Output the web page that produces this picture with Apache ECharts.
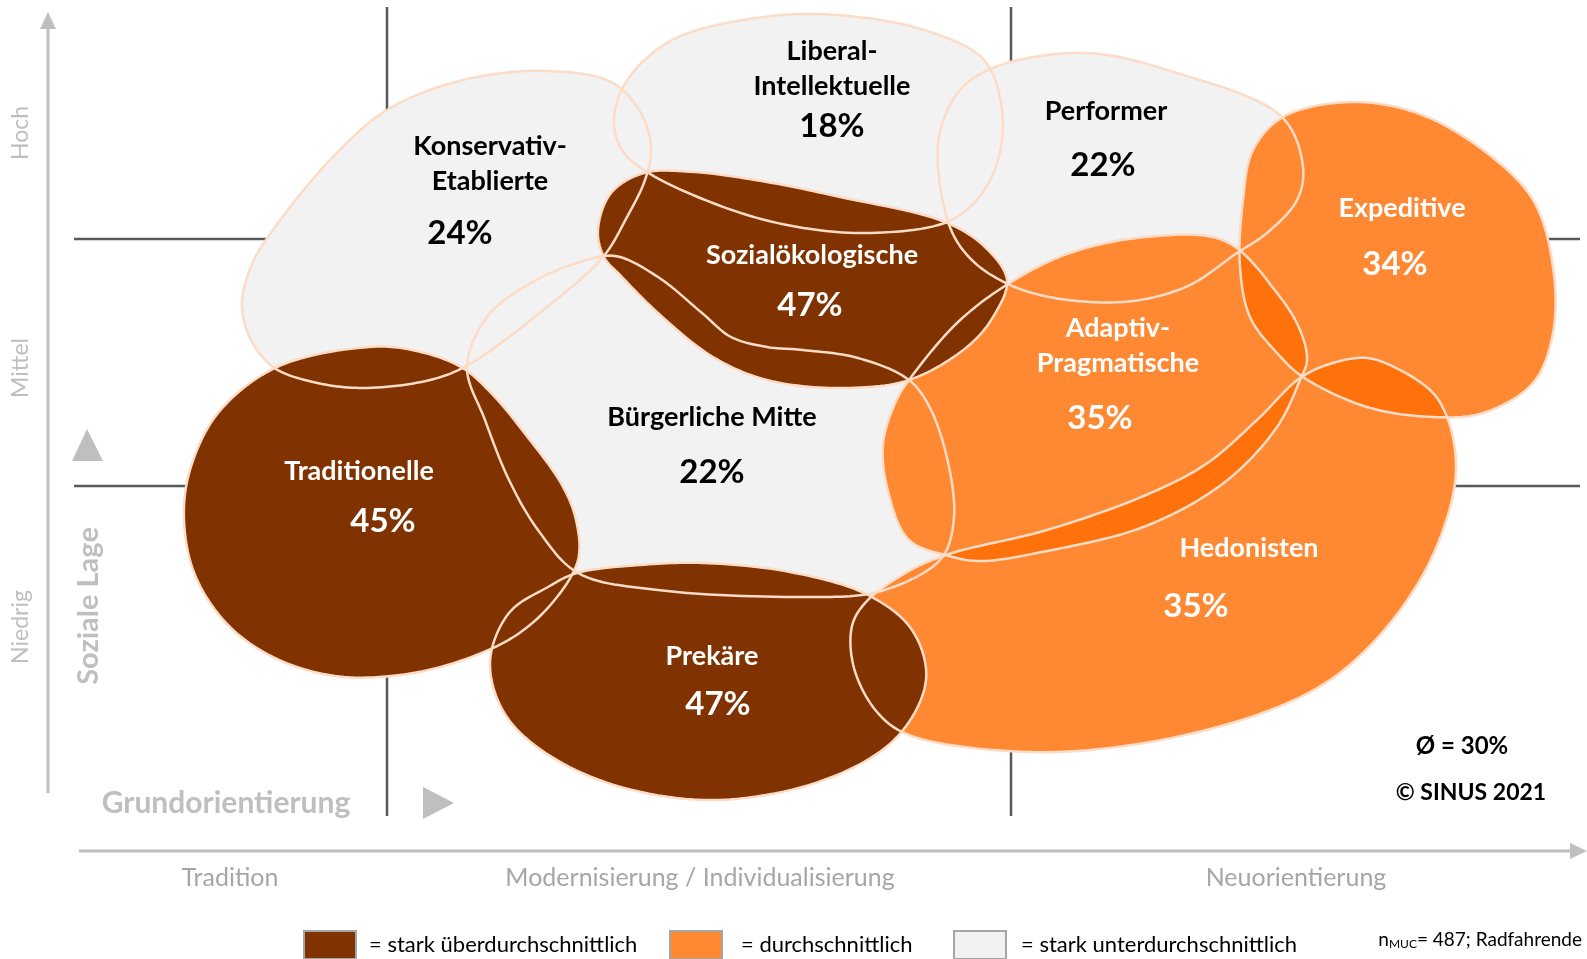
<!DOCTYPE html>
<html>
<head>
<meta charset="utf-8">
<script src="https://cdn.jsdelivr.net/npm/echarts@6/dist/echarts.min.js"></script>
<style>
  html, body { margin: 0; padding: 0; background: #fff; }
  #chart { width: 1587px; height: 959px; }
</style>
</head>
<body>
<div id="chart"></div>
<script>
// Sinus-Milieus München: Anteil Radfahrende je Milieu (Ø = 30%)
const milieus = ["Konservativ-Etablierte", "Liberal-Intellektuelle", "Performer", "Expeditive",
  "Sozialökologische", "Adaptiv-Pragmatische", "Bürgerliche Mitte", "Traditionelle", "Hedonisten", "Prekäre"];
const labels = ["Konservativ-\nEtablierte", "Liberal-\nIntellektuelle", "Performer", "Expeditive",
  "Sozialökologische", "Adaptiv-\nPragmatische", "Bürgerliche Mitte", "Traditionelle", "Hedonisten", "Prekäre"];
const shares = [24, 18, 22, 34, 47, 35, 22, 45, 35, 47];
const levels = ["unter", "unter", "unter", "mittel", "ueber", "mittel", "unter", "ueber", "mittel", "ueber"];

// milieu outlines on the map (x: Grundorientierung, y: Soziale Lage, map units)
const konservativ = [[242,303],[253,262],[273,230],[330,160],[387,110],[463,80],[547,71],[613,83],[643,117],[651,150],[645,180],[627,217],[603,257],[547,307],[468,365],[430,380],[363,388],[313,382],[273,367],[250,338]];
const liberal = [[614,120],[626,82],[672,40],[764,17],[837,15],[924,30],[984,60],[1002,110],[998,160],[979,197],[947,222],[865,233],[787,225],[718,205],[647,172],[622,150]];
const performer = [[938,167],[941,128],[960,90],[995,67],[1085,53],[1177,73],[1282,117],[1303,167],[1297,200],[1267,233],[1237,253],[1190,285],[1140,300],[1090,302],[1040,295],[1008,284],[975,263],[952,232]];
const expeditive = [[1243,200],[1253,150],[1283,117],[1350,102],[1417,113],[1483,150],[1533,200],[1553,267],[1553,333],[1533,383],[1483,413],[1433,417],[1367,407],[1303,377],[1277,353],[1250,317],[1240,267]];
const sozial = [[598,230],[611,193],[644,173],[694,172],[767,182],[840,197],[945,222],[985,247],[1007,280],[993,317],[967,347],[909,380],[840,388],[767,380],[713,357],[658,313],[622,277],[604,257]];
const adaptiv = [[1008,284],[1067,254],[1146,237],[1225,241],[1277,293],[1300,330],[1307,360],[1300,380],[1277,427],[1225,482],[1146,526],[1047,551],[980,561],[949,556],[909,540],[889,495],[883,444],[897,399],[909,380],[957,323]];
const mitte = [[467,367],[487,317],[531,283],[580,262],[615,256],[658,277],[702,313],[731,337],[767,347],[803,350],[858,358],[909,380],[931,410],[949,467],[954,517],[945,553],[925,572],[873,593],[803,597],[658,590],[578,573],[538,530],[509,480],[485,420]];
const traditionelle = [[369,347],[277,367],[218,413],[190,470],[184,520],[195,575],[228,625],[275,658],[335,676],[400,675],[460,661],[515,636],[553,602],[578,560],[576,520],[562,485],[526,435],[493,395],[461,367],[412,350]];
const hedonisten = [[949,554],[1047,530],[1146,495],[1206,464],[1257,420],[1300,378],[1333,363],[1367,358],[1400,370],[1433,393],[1447,417],[1455,450],[1455,483],[1443,530],[1420,580],[1380,635],[1330,680],[1265,712],[1150,742],[1030,752],[909,735],[877,712],[854,668],[852,626],[866,602],[909,571]];
const prekaere = [[577,573],[640,565],[703,563],[790,572],[868,595],[912,630],[926,680],[897,737],[824,780],[703,800],[582,773],[509,720],[490,663],[509,613],[548,587]];
const outlines = [konservativ, liberal, performer, expeditive, sozial, adaptiv, mitte, traditionelle, hedonisten, prekaere];

// axis captions
const lageTicks = ["Hoch", "Mittel", "Niedrig"];
const orientTicks = ["Tradition", "Modernisierung / Individualisierung", "Neuorientierung"];

// layout (map units)
const nameAt = [[490,164],[832,69],[1106,111],[1402,208],[812,255],[1118,346],[712,417],[359,471],[1249,548],[712,656]];
const shareAt = [[460,233],[832,126],[1103,165],[1395,264],[810,305],[1100,418],[712,472],[383,521],[1196,606],[718,704]];
const lageAt = [[21,133],[21,368],[21,627]];
const orientAt = [[230,878],[700,878],[1296,878]];
const gridLines = [[[387,7],[387,816]], [[1011,7],[1011,816]], [[74,239],[1580,239]], [[74,486],[1580,486]]];

const FONT = "Lato, 'Noto Sans', sans-serif";
const FILL = { unter: "#F2F2F2", mittel: "rgba(255,108,0,0.8)", ueber: "#803200" };
const LEGEND_COLOR = { unter: "#F2F2F2", mittel: "#FF8833", ueber: "#803200" };
const LEVEL_NAME = { ueber: "stark überdurchschnittlich", mittel: "durchschnittlich", unter: "stark unterdurchschnittlich" };

// closed centripetal catmull-rom through the outline points
function spline(pts, steps) {
  const out = [], n = pts.length;
  const d = (a, b) => Math.pow(Math.hypot(b[0] - a[0], b[1] - a[1]), 0.5) || 1e-4;
  const lerp = (a, b, ta, tb, t) => [
    ((tb - t) * a[0] + (t - ta) * b[0]) / (tb - ta),
    ((tb - t) * a[1] + (t - ta) * b[1]) / (tb - ta)
  ];
  for (let i = 0; i < n; i++) {
    const p0 = pts[(i - 1 + n) % n], p1 = pts[i], p2 = pts[(i + 1) % n], p3 = pts[(i + 2) % n];
    const t0 = 0, t1 = t0 + d(p0, p1), t2 = t1 + d(p1, p2), t3 = t2 + d(p2, p3);
    for (let s = 0; s < steps; s++) {
      const t = t1 + (t2 - t1) * s / steps;
      const a1 = lerp(p0, p1, t0, t1, t), a2 = lerp(p1, p2, t1, t2, t), a3 = lerp(p2, p3, t2, t3, t);
      const b1 = lerp(a1, a2, t0, t2, t), b2 = lerp(a2, a3, t1, t3, t);
      out.push(lerp(b1, b2, t1, t2, t));
    }
  }
  return out;
}

function blobPoints(api, i) {
  return spline(outlines[i].map(p => api.coord(p)), 14);
}

function fillSeries(level, name, fill) {
  return {
    type: "custom",
    name: name,
    itemStyle: { color: LEGEND_COLOR[level] },
    silent: true,
    data: milieus.map((_, i) => [i, 0]).filter(v => levels[v[0]] === level),
    renderItem: (params, api) => ({
      type: "polygon",
      shape: { points: blobPoints(api, api.value(0)) },
      style: { fill: fill }
    })
  };
}

const chart = echarts.init(document.getElementById("chart"));

const legendBase = {
  icon: "rect", itemWidth: 52, itemHeight: 28, top: 930, padding: 0, selectedMode: false,
  itemStyle: { borderColor: "#A6A6A6", borderWidth: 2 },
  formatter: "= {name}"
};
const legendText = pad => ({ fontFamily: FONT, fontSize: 22, color: "#000", padding: [0, 0, 0, pad] });

chart.setOption({
  animation: false,
  grid: { left: 0, right: 0, top: 0, bottom: 0 },
  xAxis: { type: "value", min: 0, max: 1587, show: false },
  yAxis: { type: "value", min: 0, max: 959, inverse: true, show: false },
  legend: [
    Object.assign({}, legendBase, { left: 303, data: [LEVEL_NAME.ueber], textStyle: legendText(8) }),
    Object.assign({}, legendBase, { left: 669, data: [LEVEL_NAME.mittel], textStyle: legendText(14) }),
    Object.assign({}, legendBase, { left: 953, data: [LEVEL_NAME.unter], textStyle: legendText(10) })
  ],
  series: [
    {
      type: "custom", name: "Raster", silent: true,
      data: gridLines.map((_, i) => [i, 0]),
      renderItem: (params, api) => {
        const seg = gridLines[api.value(0)];
        const a = api.coord(seg[0]), b = api.coord(seg[1]);
        return { type: "line", shape: { x1: a[0], y1: a[1], x2: b[0], y2: b[1] },
          style: { stroke: "#595959", lineWidth: 2.5 } };
      }
    },
    fillSeries("unter", LEVEL_NAME.unter, FILL.unter),
    fillSeries("mittel", "Grund", "#FFFFFF"),
    fillSeries("mittel", LEVEL_NAME.mittel, FILL.mittel),
    fillSeries("ueber", LEVEL_NAME.ueber, FILL.ueber),
    {
      type: "custom", name: "Umriss", silent: true,
      data: milieus.map((_, i) => [i, 0]),
      renderItem: (params, api) => ({
        type: "polygon",
        shape: { points: blobPoints(api, api.value(0)) },
        style: { fill: "none", stroke: "#FCDCC6", lineWidth: 2.5 }
      })
    },
    {
      type: "custom", name: "Beschriftung", silent: true,
      data: milieus.map((_, i) => [i, 0]),
      renderItem: (params, api) => {
        const i = api.value(0);
        const col = levels[i] === "unter" ? "#000" : "#fff";
        const n = api.coord(nameAt[i]), s = api.coord(shareAt[i]);
        return {
          type: "group",
          children: [
            { type: "text", x: n[0], y: n[1],
              style: { text: labels[i], fill: col, font: "bold 27px " + FONT, align: "center", verticalAlign: "middle", lineHeight: 35 } },
            { type: "text", x: s[0], y: s[1],
              style: { text: shares[i] + "%", fill: col, font: "bold 33px " + FONT, align: "center", verticalAlign: "middle" } }
          ]
        };
      }
    },
    {
      type: "custom", name: "Achsen", silent: true,
      data: [[0, 0]],
      renderItem: (params, api) => {
        const c = p => api.coord(p);
        const kids = [];
        const y0 = c([48, 793]), y1 = c([48, 27]);
        kids.push({ type: "line", shape: { x1: y0[0], y1: y0[1], x2: y1[0], y2: y1[1] }, style: { stroke: "#BFBFBF", lineWidth: 3 } });
        kids.push({ type: "polygon", shape: { points: [c([48, 12]), c([40, 29]), c([56, 29])] }, style: { fill: "#BFBFBF" } });
        const x0 = c([79, 851]), x1 = c([1572, 851]);
        kids.push({ type: "line", shape: { x1: x0[0], y1: x0[1], x2: x1[0], y2: x1[1] }, style: { stroke: "#BFBFBF", lineWidth: 3 } });
        kids.push({ type: "polygon", shape: { points: [c([1587, 851]), c([1570, 843]), c([1570, 859])] }, style: { fill: "#BFBFBF" } });
        kids.push({ type: "polygon", shape: { points: [c([87, 429]), c([72, 461]), c([103, 461])] }, style: { fill: "#BFBFBF" } });
        kids.push({ type: "polygon", shape: { points: [c([454, 803]), c([423, 787]), c([423, 819])] }, style: { fill: "#BFBFBF" } });
        lageTicks.forEach((t, k) => {
          const p = c(lageAt[k]);
          kids.push({ type: "text", x: p[0], y: p[1], rotation: Math.PI / 2,
            style: { text: t, fill: "#BFBFBF", font: "23px " + FONT, align: "center", verticalAlign: "middle" } });
        });
        orientTicks.forEach((t, k) => {
          const p = c(orientAt[k]);
          kids.push({ type: "text", x: p[0], y: p[1],
            style: { text: t, fill: "#A6A6A6", font: "25px " + FONT, align: "center", verticalAlign: "middle" } });
        });
        const sl = c([89, 606]);
        kids.push({ type: "text", x: sl[0], y: sl[1], rotation: Math.PI / 2,
          style: { text: "Soziale Lage", fill: "#BFBFBF", font: "bold 29px " + FONT, align: "center", verticalAlign: "middle" } });
        const go = c([226, 803]);
        kids.push({ type: "text", x: go[0], y: go[1],
          style: { text: "Grundorientierung", fill: "#BFBFBF", font: "bold 30px " + FONT, align: "center", verticalAlign: "middle" } });
        const avg = c([1462, 746]);
        kids.push({ type: "text", x: avg[0], y: avg[1],
          style: { text: "Ø = 30%", fill: "#000", font: "bold 24px " + FONT, align: "center", verticalAlign: "middle" } });
        const cp = c([1471, 793]);
        kids.push({ type: "text", x: cp[0], y: cp[1],
          style: { text: "© SINUS 2021", fill: "#000", font: "bold 23px " + FONT, align: "center", verticalAlign: "middle" } });
        const nm = c([1582, 940]);
        kids.push({ type: "text", x: nm[0], y: nm[1],
          style: {
            text: "{n|n}{s|MUC}{n|= 487; Radfahrende}", align: "right", verticalAlign: "middle",
            rich: {
              n: { fontFamily: FONT, fontSize: 19, fill: "#000" },
              s: { fontFamily: FONT, fontSize: 12, fill: "#000", verticalAlign: "bottom", padding: [9, 0, 0, 0] }
            }
          } });
        return { type: "group", children: kids };
      }
    }
  ]
});
</script>
</body>
</html>
